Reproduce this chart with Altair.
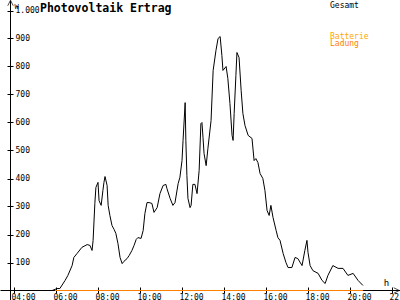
import altair as alt
import pandas as pd

# ---- data ----
zeit = ["05:49", "06:03", "06:11", "06:26", "06:34", "06:46", "06:51", "07:00", "07:14", "07:29",
        "07:37", "07:43", "07:46", "07:51", "07:54", "08:00", "08:03", "08:09", "08:14", "08:17",
        "08:20", "08:26", "08:29", "08:34", "08:40", "08:46", "08:51", "08:57", "09:03", "09:09",
        "09:14", "09:23", "09:29", "09:37", "09:43", "09:49", "09:54", "10:03", "10:09", "10:14",
        "10:20", "10:26", "10:34", "10:40", "10:49", "10:57", "11:06", "11:14", "11:17", "11:26",
        "11:34", "11:40", "11:49", "11:54", "12:00", "12:03", "12:09", "12:11", "12:14", "12:17",
        "12:23", "12:26", "12:31", "12:37", "12:43", "12:49", "12:54", "12:57", "13:00", "13:03",
        "13:09", "13:14", "13:23", "13:29", "13:37", "13:43", "13:49", "13:54", "13:57", "14:06",
        "14:11", "14:17", "14:23", "14:26", "14:29", "14:34", "14:37", "14:43", "14:49", "14:54",
        "15:00", "15:09", "15:20", "15:26", "15:31", "15:37", "15:43", "15:51", "15:57", "16:03",
        "16:09", "16:14", "16:20", "16:29", "16:34", "16:40", "16:49", "16:57", "17:03", "17:14",
        "17:23", "17:31", "17:43", "17:51", "17:57", "18:00", "18:06", "18:14", "18:29", "18:40",
        "18:49", "18:57", "19:11", "19:26", "19:40", "19:54", "20:09", "20:23", "20:37"]
gesamt = [0, 7, 7, 36, 54, 89, 118, 132, 154, 164,
          161, 143, 179, 311, 368, 386, 321, 304, 357, 386,
          407, 375, 304, 268, 232, 218, 204, 168, 118, 96,
          104, 114, 125, 143, 161, 182, 189, 186, 214, 275,
          314, 314, 311, 279, 296, 346, 375, 379, 364, 329,
          304, 314, 382, 404, 464, 536, 671, 536, 411, 329,
          296, 304, 379, 379, 346, 429, 596, 600, 546, 489,
          446, 507, 607, 786, 857, 900, 907, 839, 786, 800,
          757, 668, 554, 536, 632, 768, 850, 832, 714, 632,
          589, 554, 543, 464, 471, 457, 418, 400, 357, 286,
          268, 304, 261, 214, 189, 179, 132, 100, 82, 82,
          118, 114, 89, 143, 179, 136, 89, 71, 61, 36,
          25, 54, 89, 79, 79, 54, 61, 36, 18]
ladung_zeit = ["05:57", "20:37"]
ladung = [0, 0]

y_ticks = [100, 200, 300, 400, 500, 600, 700, 800, 900, 1000]
x_ticks = [4, 6, 8, 10, 12, 14, 16, 18, 20, 22]
titel = "Photovoltaik Ertrag"
legende = ["Gesamt", "Batterie", "Ladung"]
legende_farben = ["#000000", "#ffa800", "#ff8000"]
linie_gesamt = "#000000"
linie_ladung = "#ff8000"

FONT = "DejaVu Sans Mono"


def stunden(t):
    h, m = t.split(":")
    return int(h) + int(m) / 60


df_g = pd.DataFrame({"h": [stunden(t) for t in zeit], "w": gesamt})
df_l = pd.DataFrame({"h": [stunden(t) for t in ladung_zeit], "w": ladung})

xs = alt.Scale(domain=[6 - 56 / 21, 6 + 344 / 21], nice=False, zero=False)
y0 = -9.5 / 0.28
ys = alt.Scale(domain=[y0, y0 + 300 / 0.28], nice=False, zero=False)

x_label_expr = "(datum.value < 10 ? '0' : '') + datum.value + ':00'"
y_label_expr = "datum.value >= 1000 ? '1.000' : datum.label"

common_axis = dict(grid=False, domainColor="black", tickColor="black", labelColor="black",
                   labelFont=FONT, labelFontSize=8, titleFont=FONT, titleColor="black",
                   titleFontWeight="normal", labelFlush=False, labelOverlap=False, zindex=0,
                   domainWidth=1, tickWidth=1)

gesamt_line = alt.Chart(df_g).mark_line(color=linie_gesamt, strokeWidth=1).encode(
    x=alt.X("h:Q", scale=xs, axis=alt.Axis(
        orient="bottom", offset=-10, values=x_ticks, labelExpr=x_label_expr,
        tickSize=3, labelPadding=0, labelAlign="left", labelOffset=-3,
        title="h", titleX=386, titleY=-5, titleFontSize=9,
        titleAlign="center", titleBaseline="alphabetic", **common_axis)),
    y=alt.Y("w:Q", scale=ys, axis=alt.Axis(
        orient="left", offset=-10, values=y_ticks, labelExpr=y_label_expr,
        tickSize=3, labelAlign="left", labelPadding=-8, labelBaseline="middle",
        title="W", titleAngle=0, titleX=4, titleY=8, titleAlign="left",
        titleBaseline="alphabetic", titleFontSize=7, **common_axis)),
)

ladung_line = alt.Chart(df_l).mark_line(color=linie_ladung, strokeWidth=1).encode(
    x=alt.X("h:Q", scale=xs, axis=alt.Axis(
        orient="top", offset=-290, values=x_ticks, labels=False, domain=False,
        tickSize=3, title="", **common_axis)),
    y=alt.Y("w:Q", scale=ys, axis=alt.Axis(
        orient="right", offset=-390, values=y_ticks, labels=False, domain=False,
        tickSize=3, title="", **common_axis)),
)

one = alt.Data(values=[{}])

pfeil_y = alt.Chart(one).mark_point(shape="M-1,1L0,-1L1,1", filled=False, size=30,
                                    color="black", strokeWidth=1).encode(
    x=alt.value(10.5), y=alt.value(3))
pfeil_x = alt.Chart(one).mark_point(shape="M-1,-1L1,0L-1,1", filled=False, size=30,
                                    color="black", strokeWidth=1).encode(
    x=alt.value(396.5), y=alt.value(290.5))

titel_text = alt.Chart(one).mark_text(text=titel, font=FONT, fontSize=11.5, fontWeight="bold",
                                      align="left", baseline="alphabetic", color="black").encode(
    x=alt.value(40), y=alt.value(11.5))

leg_layers = []
for i, (lab, col) in enumerate(zip(legende, legende_farben)):
    ypos = 8 if i == 0 else (38.5 if i == 1 else 46)
    leg_layers.append(alt.Chart(one).mark_text(text=lab, font=FONT, fontSize=8, align="left",
                                               baseline="alphabetic", color=col).encode(
        x=alt.value(330), y=alt.value(ypos)))

chart = alt.layer(gesamt_line, ladung_line, pfeil_y, pfeil_x, titel_text, *leg_layers).resolve_scale(
    x="independent", y="independent"
).properties(
    width=400, height=300, padding=0,
    autosize=alt.AutoSizeParams(type="none"),
    background="white",
).configure_view(strokeWidth=0)

chart.save("out.html", embed_options={"renderer": "svg", "actions": False})
